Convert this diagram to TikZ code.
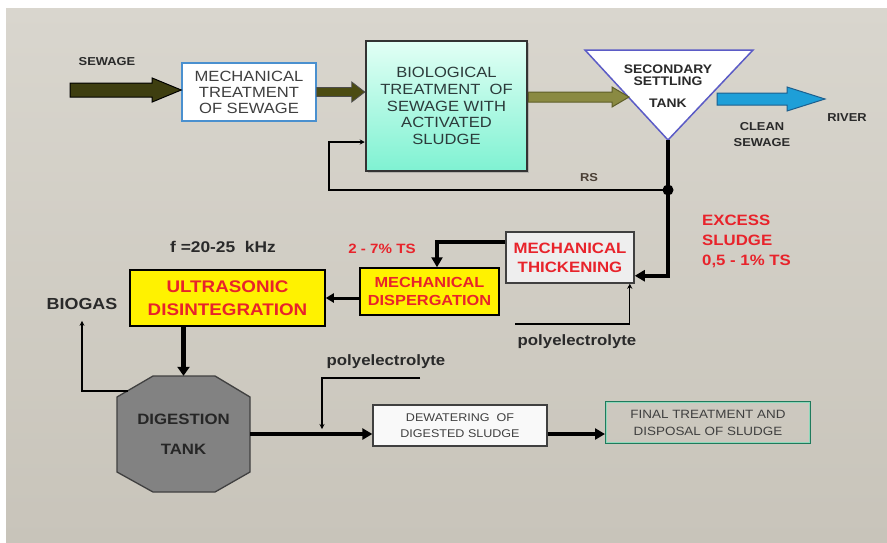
\documentclass[tikz,border=0pt]{standalone}
\usepackage{fontspec}
\setmainfont[FakeStretch=1.12]{Liberation Sans}
\usetikzlibrary{calc,shadows,arrows.meta}

\definecolor{bgtop}{HTML}{D9D6CE}
\definecolor{bgbot}{HTML}{C8C4BA}
\definecolor{inkdark}{HTML}{2A2A2A}
\definecolor{biotext}{HTML}{2C3B3B}
\definecolor{rsbrown}{HTML}{4A3F35}
\definecolor{redtxt}{HTML}{E8232B}
\definecolor{boxblue}{HTML}{4A90CF}
\definecolor{tribord}{HTML}{5B5BC6}
\definecolor{olivedark}{HTML}{3E3E10}
\definecolor{olivemid}{HTML}{4C4C12}
\definecolor{olivelight}{HTML}{8A8A42}
\definecolor{olivelightedge}{HTML}{5E5E28}
\definecolor{riverblue}{HTML}{1E9FD8}
\definecolor{riveredge}{HTML}{1D5F8E}
\definecolor{aquatop}{HTML}{E2FFF5}
\definecolor{aquabot}{HTML}{7FF2D2}
\definecolor{tankgray}{HTML}{828282}
\definecolor{finaledge}{HTML}{1F7A5C}
\definecolor{finalinner}{HTML}{8FD8BB}
\definecolor{boxgray}{HTML}{EEEEEE}
\definecolor{edgegray}{HTML}{404040}

\newcommand\fsz[2]{\fontsize{#1}{#2}\selectfont}

% horizontal block arrow: style, start, end, shaft half width, head half width, head length
\newcommand\fatarrow[6]{%
  \draw[#1] let \p1=(#2), \p2=(#3) in
    (\x1,\y1+#4) -- (\x2-#6,\y1+#4) -- (\x2-#6,\y1+#5) -- (\x2,\y1)
    -- (\x2-#6,\y1-#5) -- (\x2-#6,\y1-#4) -- (\x1,\y1-#4) -- cycle;}

\begin{document}
\begin{tikzpicture}[x=1pt,y=-1pt,
  txt/.style={text=inkdark, inner sep=0pt, align=center},
  redtx/.style={text=redtxt, inner sep=0pt, align=center},
  thin/.style={line width=1.2pt, -{Stealth[length=5pt,width=5pt]}},
  heavy/.style={line width=4pt, -{Triangle[length=10pt,width=11pt]}}]

% background
\fill[white] (0,0) rectangle (887,542);
\shade[top color=bgtop, bottom color=bgbot] (6,8) rectangle (887,542);
\useasboundingbox (0,0) rectangle (887,542);

% sewage line
\node[draw=boxblue, line width=1.6pt, fill=white, minimum width=134pt, minimum height=58pt,
  txt, text=inkdark!90, font=\fsz{14.8}{16}] (mt) at (249,92) {MECHANICAL\\TREATMENT\\OF SEWAGE};
\node[draw=gray!40!black, line width=2.5pt, top color=aquatop, bottom color=aquabot,
  drop shadow={shadow xshift=2pt, shadow yshift=-2pt, opacity=0.4},
  minimum width=161pt, minimum height=130pt, txt, text=biotext, font=\fsz{14.8}{16.7}] (bio)
  at (446.5,106) {BIOLOGICAL\\TREATMENT\ \ OF\\SEWAGE WITH\\ACTIVATED\\SLUDGE};

% secondary settling tank
\coordinate (tl) at (585,50);
\coordinate (tr) at (753,50);
\coordinate (sstbot) at (668,140);
\draw[tribord, line width=1.5pt, fill=white] (tl) -- (tr) -- (sstbot) -- cycle;
\node[txt, font=\fsz{12.4}{12}\bfseries] (sst) at (668,86) {SECONDARY\\SETTLING\\[10pt]TANK};

% labels
\node[txt, font=\fsz{11.5}{13}\bfseries] (sewlbl) at (107,62) {SEWAGE};
\node[txt, font=\fsz{11.5}{13}\bfseries] (river) at (847,118) {RIVER};
\node[txt, font=\fsz{11.5}{16}\bfseries] (clean) at (762,135) {CLEAN\\SEWAGE};
\node[txt, text=rsbrown, font=\fsz{11.5}{13}\bfseries] (rs) at (589,178) {RS};

% sludge line
\node[draw=edgegray, line width=1.5pt, fill=boxgray, minimum width=128pt, minimum height=51pt,
  redtx, font=\fsz{15}{19}\bfseries] (thick) at (570,257.5) {MECHANICAL\\THICKENING};
\node[draw=black, line width=1.5pt, fill=yellow, minimum width=139pt, minimum height=47pt,
  redtx, font=\fsz{14.6}{18}\bfseries] (disp) at (429.5,291.5) {MECHANICAL\\DISPERGATION};
\node[draw=black, line width=1.5pt, fill=yellow, minimum width=195pt, minimum height=56pt,
  redtx, font=\fsz{16.8}{23}\bfseries] (ultra) at (227.5,298) {ULTRASONIC\\DISINTEGRATION};

\node[redtx, font=\fsz{15}{20}\bfseries, align=left, anchor=west] (excess) at (702,241)
  {EXCESS\\SLUDGE\\0,5 - 1\% TS};
\node[redtx, font=\fsz{13.5}{16}\bfseries] (ts) at (382,249) {2 - 7\% TS};
\node[txt, font=\fsz{15.5}{18}\bfseries] (freq) at (223,247) {f =20-25\ \ kHz};
\node[txt, font=\fsz{16}{18}\bfseries] (biogas) at (82,304) {BIOGAS};
\node[txt, font=\fsz{15}{17}\bfseries] (poly1) at (577,342) {polyelectrolyte};
\node[txt, font=\fsz{15}{17}\bfseries] (poly2) at (386,362) {polyelectrolyte};

% digestion tank (octagon)
\draw[fill=tankgray, draw=black!75, line width=1.3pt]
  (153,376) -- (215,376) -- (250,397) -- (250,472) -- (215,492) -- (153,492)
  -- (117,472) -- (117,397) -- cycle;
\node[minimum width=133pt, minimum height=116pt, txt, text=black!85, font=\fsz{15}{30}\bfseries] (dig)
  at (183.5,434) {DIGESTION\\TANK};

\node[draw=edgegray, line width=1.3pt, fill=white!95!gray, minimum width=174pt, minimum height=41pt,
  txt, text=inkdark!90, font=\fsz{11.2}{16}] (dew) at (460,425.5) {DEWATERING\ \ OF\\DIGESTED SLUDGE};
\node[draw=finaledge, line width=2pt, minimum width=204pt, minimum height=41pt,
  txt, text=inkdark!90, font=\fsz{12}{17}] (fin) at (708,422.5) {FINAL TREATMENT AND\\DISPOSAL OF SLUDGE};
\draw[finalinner, line width=0.8pt] ($(fin.north west)+(1.6,1.6)$) rectangle ($(fin.south east)+(-1.6,-1.6)$);

% block arrows of the sewage line
\coordinate (sewin) at (70,90);
\fatarrow{fill=olivedark, draw=black, line width=1pt}{sewin}{mt.west}{7pt}{12pt}{29pt}
\fatarrow{fill=olivemid, draw=black!70, line width=0.8pt}{mt.east}{bio.west}{4.5pt}{10pt}{13pt}
\coordinate (sstin) at (629,97);
\fatarrow{fill=olivelight, draw=olivelightedge, line width=1pt}{$(bio.east)+(0,-9)$}{sstin}{5pt}{10pt}{17pt}
\coordinate (sstout) at (717,99);
\coordinate (rivpt) at (825,99);
\fatarrow{fill=riverblue, draw=riveredge, line width=1pt}{sstout}{rivpt}{6pt}{12pt}{38pt}

% return sludge and excess sludge
\coordinate (jn) at (668,190);
\coordinate (rsl) at (329,190);
\draw[line width=4pt] (sstbot) -- (jn);
\draw[line width=1.8pt, -{Stealth[length=5pt,width=5pt]}] (jn) -- (rsl) |- ($(bio.west)+(0,36)$);
\draw[heavy] (jn) |- ($(thick.south east)+(0,-8)$);
\fill (jn) circle (5.5pt);

% sludge treatment chain
\draw[heavy] ($(thick.north west)+(0,11)$) -| ($(disp.north)+(7.5,0)$);
\draw[line width=3pt, -{Triangle[length=8pt,width=9pt]}] (disp.west |- ultra.east) -- (ultra.east);
\draw[line width=5pt, -{Triangle[length=9pt,width=12pt]}] (ultra.south -| dig.north) -- (dig.north);
\draw[heavy] (dig.east) -- (dig.east -| dew.west);
\draw[heavy] (dew.east |- dig.east) -- (dig.east -| fin.west);

% polyelectrolyte dosing
\coordinate (pe1) at (515,324);
\draw[thin] (pe1) -| ($(thick.south east)+(-5,0)$);
\coordinate (pe2) at (420,378);
\coordinate (pe2end) at (322,429);
\draw[thin] (pe2) -| (pe2end);

% biogas outlet
\coordinate (bg) at (128,391);
\draw[thin] (bg) -| ($(biogas.south)+(0,11)$);
\end{tikzpicture}
\end{document}
